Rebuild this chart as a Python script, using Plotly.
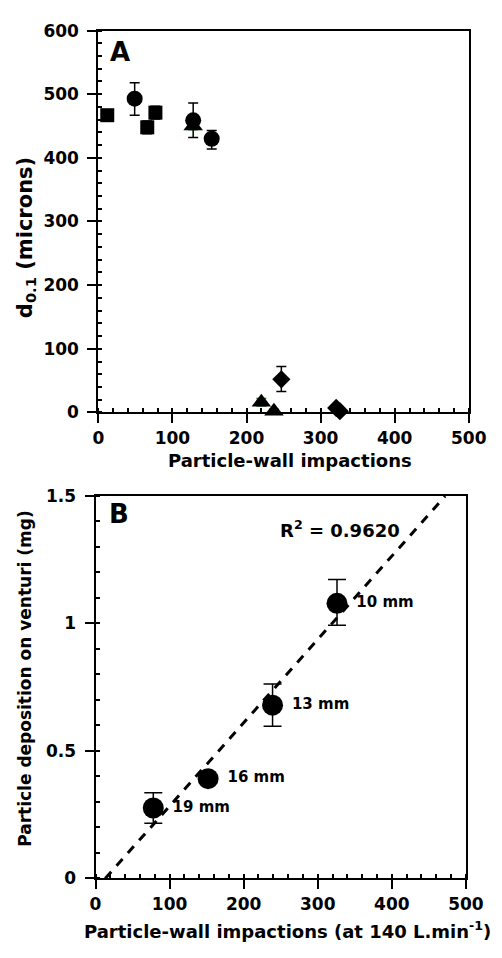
import numpy as np
import plotly.graph_objects as go

# ---------------- Panel A data ----------------
sq_x = [12, 66, 77]
sq_y = [467, 448, 471]
sq_err = [0, 10, 10]

circ_x = [49, 128, 153]
circ_y = [493, 459, 430]
circ_err_plus = [25, 27, 13]
circ_err_minus = [26, 27, 16]

tri_x = [128, 220, 237]
tri_y = [450, 16, 2]
tri_err = [6, 6, 3]

dia_x = [247, 321, 326]
dia_y = [52, 7, 2]
dia_err_plus = [20, 0, 0]
dia_err_minus = [19, 0, 0]

# ---------------- Panel B data ----------------
b_x = [326, 239, 152, 78]
b_y = [1.078, 0.679, 0.391, 0.276]
b_err_plus = [0.093, 0.083, 0.0, 0.060]
b_err_minus = [0.086, 0.083, 0.0, 0.060]
b_labels = ["10 mm", "13 mm", "16 mm", "19 mm"]
r2_text = "R<sup>2</sup> = 0.9620"

FONT = "DejaVu Sans, Liberation Sans, Arial, sans-serif"
W, H = 502, 958

def px(xp):
    return xp / W

def py(yp):
    return 1 - yp / H

fig = go.Figure()

# Panel A traces
fig.add_trace(go.Scatter(
    x=tri_x, y=tri_y, mode="markers", xaxis="x", yaxis="y", cliponaxis=False,
    marker=dict(symbol="triangle-up", size=17, color="black"),
    error_y=dict(type="data", array=tri_err, color="#2f7a2f", thickness=1.5, width=5)))
fig.add_trace(go.Scatter(
    x=sq_x, y=sq_y, mode="markers", xaxis="x", yaxis="y", cliponaxis=False,
    marker=dict(symbol="square", size=14, color="black"),
    error_y=dict(type="data", array=sq_err, color="black", thickness=1.5, width=5)))
fig.add_trace(go.Scatter(
    x=circ_x, y=circ_y, mode="markers", xaxis="x", yaxis="y", cliponaxis=False,
    marker=dict(symbol="circle", size=16, color="black"),
    error_y=dict(type="data", array=circ_err_plus, arrayminus=circ_err_minus,
                 color="black", thickness=1.5, width=5)))
fig.add_trace(go.Scatter(
    x=dia_x, y=dia_y, mode="markers", xaxis="x", yaxis="y", cliponaxis=False,
    marker=dict(symbol="diamond", size=14, color="black"),
    error_y=dict(type="data", array=dia_err_plus, arrayminus=dia_err_minus,
                 color="black", thickness=1.5, width=5)))

# Panel B: regression line from data
slope, intercept = np.polyfit(b_x, b_y, 1)
x0 = -intercept / slope
line_x = [x0, 472]
line_y = [slope * v + intercept for v in line_x]
fig.add_trace(go.Scatter(
    x=line_x, y=line_y, mode="lines", xaxis="x2", yaxis="y2",
    line=dict(color="black", width=3, dash="9px,8px")))
fig.add_trace(go.Scatter(
    x=b_x, y=b_y, mode="markers+text", xaxis="x2", yaxis="y2", cliponaxis=False,
    text=[" " + t for t in b_labels], textposition="middle right",
    textfont=dict(family=FONT, size=15, color="black", weight="bold"),
    marker=dict(symbol="circle", size=21, color="black"),
    error_y=dict(type="data", array=b_err_plus, arrayminus=b_err_minus,
                 color="black", thickness=1.5, width=9)))

axis_common = dict(
    showline=True, linecolor="black", linewidth=2, mirror=True,
    ticks="outside", ticklen=9, tickwidth=2, tickcolor="black",
    showgrid=False, zeroline=False,
    tickfont=dict(family=FONT, size=17, color="black", weight="bold"),
)

minor_common = dict(ticks="inside", ticklen=4, tickwidth=1.5, tickcolor="black")

fig.update_layout(
    width=W, height=H,
    margin=dict(l=0, r=0, t=0, b=0),
    paper_bgcolor="white", plot_bgcolor="white",
    showlegend=False,
    xaxis=dict(domain=[px(97), px(486)], range=[0, 500], dtick=100, anchor="y",
               minor=dict(dtick=20, **minor_common), **axis_common),
    yaxis=dict(domain=[py(411), py(21)], range=[0, 600], dtick=100, anchor="x",
               ticklabelstandoff=5,
               minor=dict(dtick=20, **minor_common), **axis_common),
    xaxis2=dict(domain=[px(94), px(483)], range=[0, 500], dtick=100, anchor="y2",
                minor=dict(dtick=20, **minor_common), **axis_common),
    yaxis2=dict(domain=[py(887), py(496)], range=[0, 1.5], dtick=0.5, anchor="x2",
                tickformat="~g", ticklabelstandoff=5,
                minor=dict(dtick=0.1, **minor_common), **axis_common),
)

def ann(text, x, y, size, angle=0, xanchor="center"):
    fig.add_annotation(text=text, x=x, y=y, xref="paper", yref="paper",
                       showarrow=False, textangle=angle, xanchor=xanchor, yanchor="middle",
                       font=dict(family=FONT, size=size, color="black", weight="bold"))

ann("A", px(107), py(43), 26, xanchor="left")
ann("B", px(106), py(515), 26, xanchor="left")
ann(r2_text, px(286), py(530), 18, xanchor="left")
ann("Particle-wall impactions", px(298), py(460), 18)
ann("Particle-wall impactions (at 140 L.min<sup>-1</sup>)", px(296), py(940), 18)
ann("d<sub>0.1</sub> (microns)", px(21), py(232), 21, angle=-90)
ann("Particle deposition on venturi (mg)", px(20), py(683), 17, angle=-90)

fig.write_html("out.html", config={"displayModeBar": False},
               post_script="document.body.style.margin='0';document.body.style.overflow='hidden';")
